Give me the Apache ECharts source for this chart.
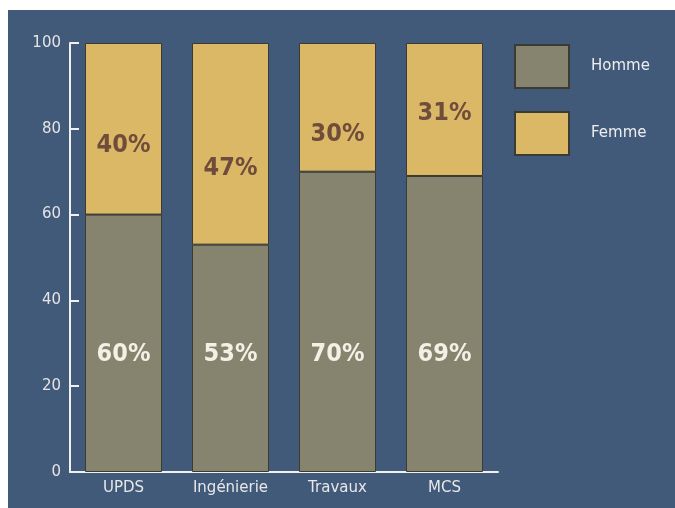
<!DOCTYPE html>
<html>
<head>
<meta charset="utf-8">
<script src="https://cdn.jsdelivr.net/npm/echarts@6/dist/echarts.min.js"></script>
<style>
html,body{margin:0;padding:0;background:#ffffff;}
#chart{position:absolute;left:8px;top:10px;width:667px;height:498px;}
</style>
</head>
<body>
<div id="chart"></div>
<script>
var categories = ['UPDS', 'Ingénierie', 'Travaux', 'MCS'];
var hommeValues = [60, 53, 70, 69];
var femmeValues = [40, 47, 30, 31];
var yTicks = [0, 20, 40, 60, 80, 100];

// label placement (styling only)
var femmeLabelDistance = [90, 113, 79, 58];

var chart = echarts.init(document.getElementById('chart'));
var labelFont = '"DejaVu Sans Condensed", "DejaVu Sans", sans-serif';
var axisFont = '"DejaVu Sans", sans-serif';

chart.setOption({
  backgroundColor: '#415a7a',
  animation: false,
  grid: { left: 62, top: 33, width: 428, bottom: 36, containLabel: false },
  legend: {
    orient: 'vertical',
    left: 501,
    top: 29,
    itemWidth: 54,
    itemHeight: 43,
    itemGap: 22,
    icon: 'rect',
    textStyle: { color: '#eeeeee', fontSize: 15, fontFamily: axisFont, padding: [0, 0, 0, 17] },
    data: ['Homme', 'Femme']
  },
  xAxis: {
    type: 'category',
    data: categories,
    axisLine: { lineStyle: { color: '#f0f0f0', width: 2 } },
    axisTick: { show: false },
    axisLabel: { color: '#e8e8e8', fontSize: 15, fontFamily: axisFont, margin: 9 }
  },
  yAxis: {
    type: 'value',
    min: 0,
    max: 100,
    interval: 20,
    splitLine: { show: false },
    axisLine: { show: true, lineStyle: { color: '#f0f0f0', width: 2 } },
    axisTick: { show: true, inside: true, length: 9, lineStyle: { color: '#f0f0f0', width: 2 } },
    axisLabel: {
      color: '#e4e4e4', fontSize: 15, fontFamily: axisFont, margin: 9,
      formatter: function (v) { return yTicks.indexOf(v) >= 0 ? String(v) : ''; }
    }
  },
  series: [
    {
      name: 'Homme',
      type: 'bar',
      stack: 'total',
      barWidth: 77,
      data: hommeValues,
      itemStyle: { color: '#86836f', borderColor: '#3b3b33', borderWidth: 1 },
      label: {
        show: true,
        position: 'insideBottom',
        distance: 105,
        formatter: '{c}%',
        color: '#f3f1e6',
        fontSize: 25,
        fontWeight: 'bold',
        fontFamily: labelFont
      }
    },
    {
      name: 'Femme',
      type: 'bar',
      stack: 'total',
      barWidth: 77,
      data: femmeValues.map(function (v, i) {
        return { value: v, label: { distance: femmeLabelDistance[i] } };
      }),
      itemStyle: { color: '#dbb866', borderColor: '#3b3b33', borderWidth: 1 },
      label: {
        show: true,
        position: 'insideTop',
        formatter: '{c}%',
        color: '#704c3c',
        fontSize: 25,
        fontWeight: 'bold',
        fontFamily: labelFont
      }
    }
  ]
});
</script>
</body>
</html>
